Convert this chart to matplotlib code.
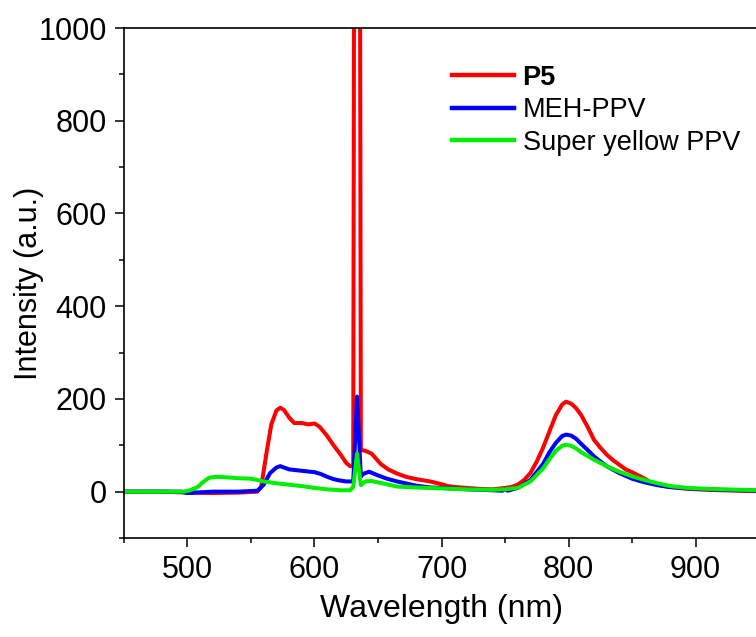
import matplotlib.pyplot as plt
from matplotlib.ticker import MultipleLocator

plt.rcParams['font.family'] = ['Liberation Sans', 'DejaVu Sans']

# P5 (red)
wl_p5 = [450, 480, 500, 520, 540, 555, 558, 562, 566, 570, 573, 576, 580, 584,
         590, 595, 600, 604, 610, 615, 620, 625, 628, 630.5, 633.5, 636.5, 640,
         645, 652, 658, 665, 672, 680, 691, 700, 705, 710, 720, 730, 740, 750,
         755, 760, 765, 770, 775, 780, 785, 790, 795, 798, 802, 806, 810, 815,
         820, 825, 830, 835, 840, 845, 850, 855, 860, 865, 870, 875, 880, 890,
         900, 920, 950]
int_p5 = [0, 0, -2, -3, -2, 0, 10, 80, 145, 175, 181, 176, 160, 148,
          148, 145, 147, 140, 120, 100, 82, 62, 55, 55, 5000, 90, 88,
          82, 60, 48, 39, 32, 27, 22, 16, 12, 10, 8, 6, 5, 8,
          10, 15, 25, 40, 65, 95, 130, 165, 188, 194, 190, 180, 165, 140,
          112, 95, 80, 68, 58, 48, 42, 35, 28, 20, 15, 12, 10, 7,
          5, 3, 1]

# MEH-PPV (blue)
wl_meh = [450, 495, 500, 520, 540, 555, 560, 565, 570, 573, 580, 590, 600, 605,
          610, 615, 620, 625, 630.5, 633.5, 636.5, 638, 643, 650, 657, 665, 680,
          691, 700, 720, 740, 748, 750, 752, 760, 770, 780, 785, 790, 795, 798,
          802, 806, 810, 815, 820, 830, 840, 850, 860, 870, 880, 900, 920, 950]
int_meh = [0, 0, -3, 0, 0, 2, 15, 40, 52, 55, 48, 45, 42, 38,
           32, 27, 24, 22, 22, 205, 32, 38, 43, 35, 28, 22, 13,
           9, 8, 5, 3, 2, 6, 2, 8, 25, 60, 85, 105, 120, 123,
           121, 114, 103, 90, 76, 55, 40, 28, 20, 14, 10, 6, 4, 2]

# Super yellow PPV (green)
wl_sy = [450, 497, 502, 508, 512, 517, 522, 530, 540, 550, 560, 570, 580, 590,
         600, 610, 620, 628, 630.5, 633.5, 636.5, 640, 645, 655, 665, 680, 700,
         720, 740, 750, 760, 770, 780, 785, 790, 795, 798, 802, 806, 810, 815,
         820, 830, 840, 850, 860, 870, 880, 890, 900, 920, 950]
int_sy = [0, 0, 3, 10, 20, 30, 32, 31, 29, 28, 22, 18, 15, 12,
          8, 5, 3, 3, 10, 82, 14, 22, 23, 17, 11, 9, 7,
          5, 4, 5, 8, 22, 50, 70, 88, 99, 101, 99, 93, 85, 77,
          69, 55, 43, 33, 25, 18, 12, 9, 7, 5, 3]

fig = plt.figure(figsize=(7.56, 6.37), dpi=100)
ax = fig.add_axes([0.164, 0.1554, 0.840, 0.8006])

ax.plot(wl_p5, int_p5, color='#ff0000', lw=2.9, label='P5')
ax.plot(wl_meh, int_meh, color='#0000ff', lw=2.9, label='MEH-PPV')
ax.plot(wl_sy, int_sy, color='#00ee00', lw=2.9, label='Super yellow PPV')

ax.set_xlim(450, 950)
ax.set_ylim(-100, 1000)
ax.xaxis.set_major_locator(MultipleLocator(100))
ax.xaxis.set_minor_locator(MultipleLocator(50))
ax.yaxis.set_major_locator(MultipleLocator(200))
ax.yaxis.set_minor_locator(MultipleLocator(100))
ax.tick_params(which='both', direction='out', top=False, right=False,
               width=1.1, labelsize=22, pad=6)
ax.tick_params(which='major', length=6.5)
ax.tick_params(which='minor', length=3.5)
for s in ax.spines.values():
    s.set_linewidth(1.2)

ax.set_xlabel('Wavelength (nm)', fontsize=23, labelpad=6)
ax.set_ylabel('Intensity (a.u.)', fontsize=22, labelpad=-4)

leg = ax.legend(loc='upper left', bbox_to_anchor=(0.598, 0.898),
                bbox_transform=fig.transFigure, frameon=False, fontsize=19.5,
                handlelength=2.3, handletextpad=0.3, labelspacing=0.24,
                borderpad=0, borderaxespad=0)
for line in leg.get_lines():
    line.set_linewidth(3.2)
leg.get_texts()[0].set_fontweight('bold')

fig.savefig('out.png', dpi=100)
